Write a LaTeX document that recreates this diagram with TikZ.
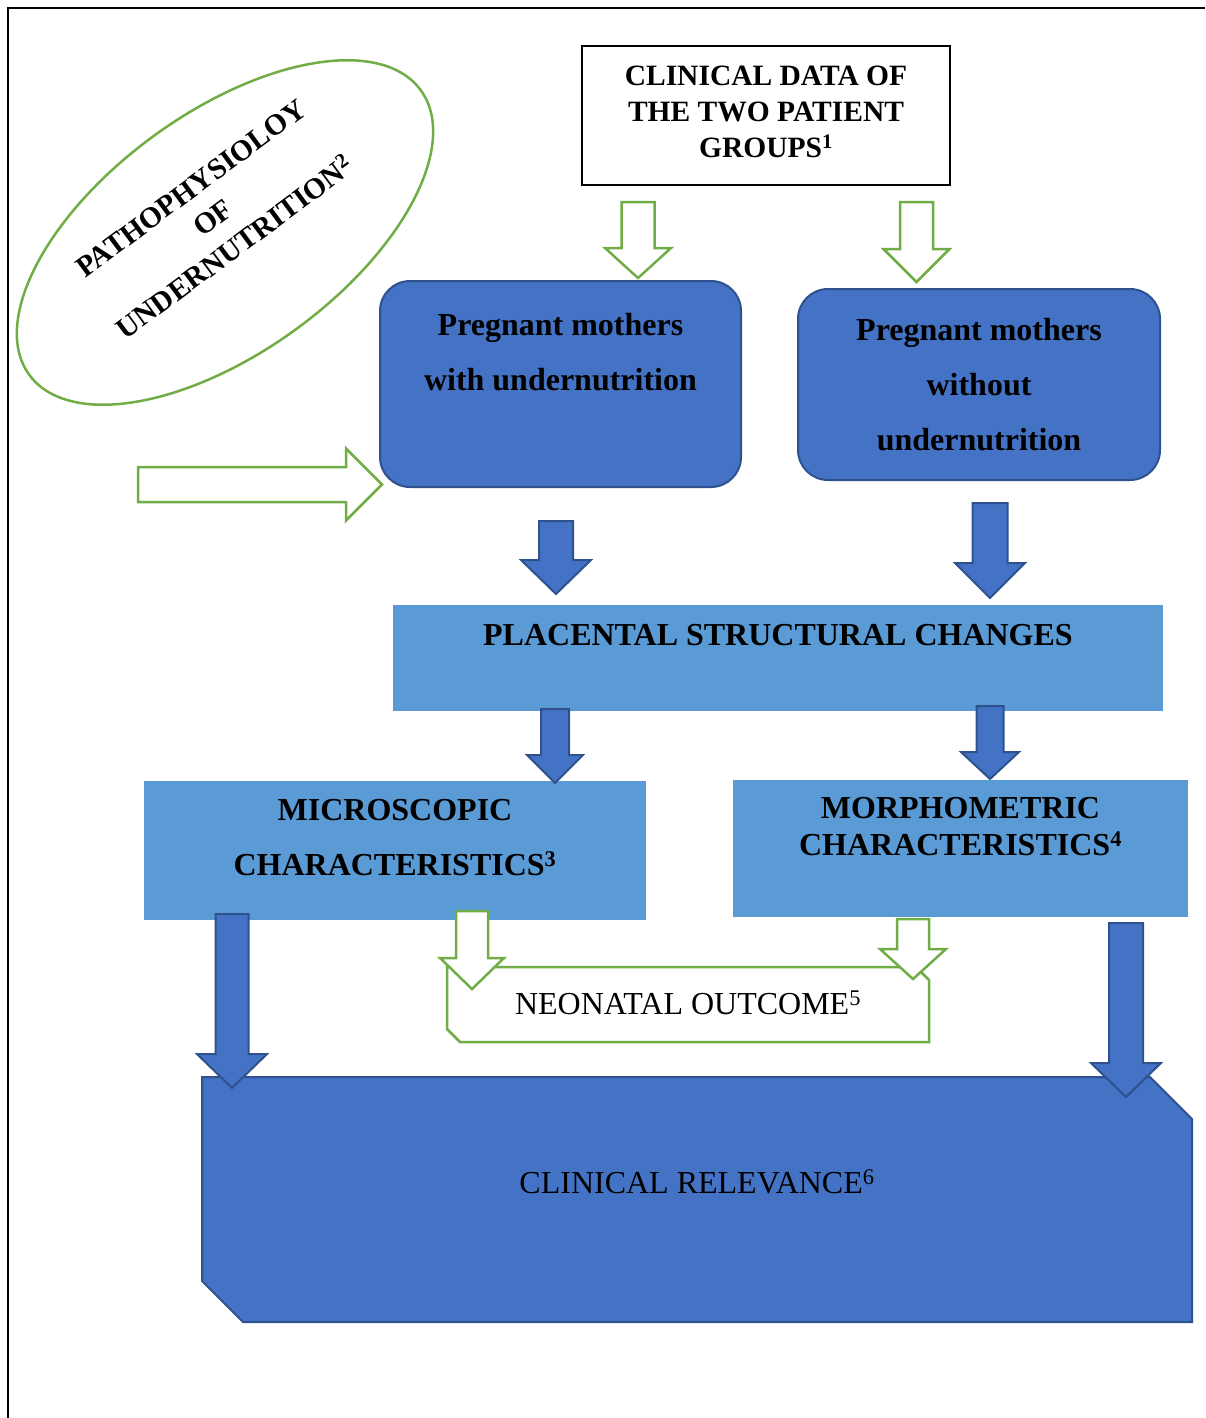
\documentclass[tikz,border=0pt]{standalone}
\usepackage{fontspec}
\setmainfont{Liberation Serif}
\usetikzlibrary{shapes.geometric,calc}
\definecolor{boxblue}{RGB}{68,114,196}
\definecolor{edgeblue}{RGB}{47,82,143}
\definecolor{paleblue}{RGB}{91,155,213}
\definecolor{leafgreen}{RGB}{112,173,71}
\newcommand{\boxfont}{\fontsize{32}{55}\selectfont\bfseries}
% block arrow along local +y: [rotation]{style}{start}{length}{shaft half}{head half}{head length}
\newcommand{\blockarrow}[7][0]{%
  \draw[#2,shift={(#3)},rotate=#1] (-#5,0) -- (#5,0) -- (#5,#4-#7) -- (#6,#4-#7)
    -- (0,#4) -- (-#6,#4-#7) -- (-#5,#4-#7) -- cycle;}

\begin{document}
\begin{tikzpicture}[x=1pt,y=-1pt,
  every node/.style={inner sep=0pt,outer sep=0pt},
  greenarrow/.style={draw=leafgreen,line width=2.5pt,fill=white},
  bluearrow/.style={draw=edgeblue,line width=2pt,fill=boxblue},
  roundbox/.style={draw=edgeblue,line width=2pt,fill=boxblue,rounded corners=30pt},
  palebox/.style={fill=paleblue}]
  \useasboundingbox (0,0) rectangle (1205,1418);
  \draw[line width=2.5pt] (1205,8) -- (8,8) -- (8,1418);
  % ellipse
  \node[ellipse,draw=leafgreen,line width=2.5pt,rotate=36,minimum width=484pt,minimum height=240pt] (patho) at (225,232.5) {};
  \node[rotate=36.5,align=center,font=\fontsize{29.5}{37}\selectfont\bfseries] (pathotxt) at (213,218) {PATHOPHYSIOLOY\\OF\\UNDERNUTRITION\textsuperscript{2}};
  % top box
  \node[draw,line width=1.5pt,minimum width=368pt,minimum height=139pt] (clinical) at (766,115.5) {};
  \node[align=center,font=\fontsize{29.5}{36}\selectfont\bfseries] (clinicaltxt) at (766,111.5) {CLINICAL DATA OF\\THE TWO PATIENT\\GROUPS\textsuperscript{1}};
  % mothers
  \node[roundbox,minimum width=361pt,minimum height=206pt] (withU) at (560.5,384) {};
  \node[align=center,font=\boxfont] (withUtxt) at (560.5,352.5) {Pregnant mothers\\with undernutrition};
  \node[roundbox,minimum width=362pt,minimum height=191pt,align=center,font=\boxfont] (withoutU) at (979,384.5) {Pregnant mothers\\without\\undernutrition};
  % placenta
  \node[palebox,minimum width=770pt,minimum height=106pt] (placenta) at (778,658) {};
  \node[font=\boxfont] (placentatxt) at (778,635) {PLACENTAL STRUCTURAL CHANGES};
  \node[palebox,minimum width=502pt,minimum height=139pt] (micro) at (395,850.5) {};
  \node[align=center,font=\boxfont] (microtxt) at (395,838) {MICROSCOPIC\\CHARACTERISTICS\textsuperscript{3}};
  \node[palebox,minimum width=455pt,minimum height=137pt] (morph) at (960.5,848.5) {};
  \node[align=center,font=\fontsize{32}{37}\selectfont\bfseries] (morphtxt) at (960.5,827) {MORPHOMETRIC\\CHARACTERISTICS\textsuperscript{4}};
  % outcome
  \node[minimum width=482pt,minimum height=75pt] (neo) at (688,1004.5) {};
  \draw[greenarrow] (neo.north west) -- ($(neo.north east)+(-13,0)$) -- ($(neo.north east)+(0,13)$)
    -- (neo.south east) -- ($(neo.south west)+(13,0)$) -- ($(neo.south west)+(0,-13)$) -- cycle;
  \node[font=\fontsize{32}{38}\selectfont] (neotxt) at (688,1003) {NEONATAL OUTCOME\textsuperscript{5}};
  \node[minimum width=990pt,minimum height=245pt] (relevance) at (697,1199.5) {};
  \draw[bluearrow] (relevance.north west) -- ($(relevance.north east)+(-42,0)$) -- ($(relevance.north east)+(0,42)$)
    -- (relevance.south east) -- ($(relevance.south west)+(41,0)$) -- ($(relevance.south west)+(0,-41)$) -- cycle;
  \node[font=\fontsize{32}{38}\selectfont] (relevancetxt) at (697,1182) {CLINICAL RELEVANCE\textsuperscript{6}};
  % arrows
  \blockarrow{greenarrow}{638,202}{76}{16.5}{33}{30}
  \blockarrow{greenarrow}{916.5,202}{80}{16.5}{33}{33}
  \blockarrow[90]{greenarrow}{138,484.5}{244}{17.5}{36}{36}
  \blockarrow{bluearrow}{556,521}{73}{17}{35}{34}
  \blockarrow{bluearrow}{990,503}{95}{17.5}{35}{35}
  \blockarrow{bluearrow}{555,709}{74}{14}{28}{28}
  \blockarrow{bluearrow}{990,706}{73}{13.5}{29}{27}
  \blockarrow{greenarrow}{472,911}{78}{16}{32}{31}
  \blockarrow{greenarrow}{913,919}{60}{16}{33}{30}
  \blockarrow{bluearrow}{232,914}{174}{16.5}{35}{34}
  \blockarrow{bluearrow}{1126,923}{174}{17}{35}{34}
\end{tikzpicture}
\end{document}
